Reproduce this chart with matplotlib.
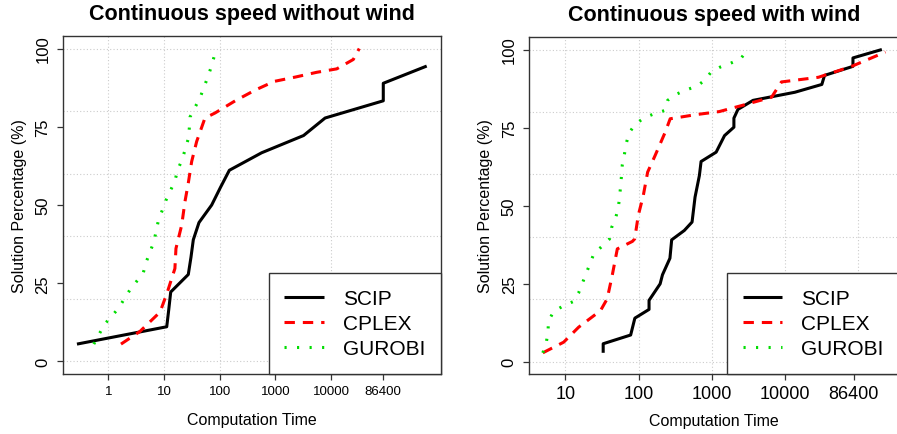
"""
Solution percentage vs computation time, two panels (no wind / wind).
"""

import matplotlib
matplotlib.use("Agg")
import matplotlib.pyplot as plt
import numpy as np

# ── Data: computation time (s) and cumulative solution percentage ─────────────
NOWIND_SCIP_T = [0.274, 11.2, 12.2, 13.2, 27.3, 30.5, 33.6, 42.5, 71.8, 103, 149,
                 567, 3200, 7800, 86400, 86400, 520000]
NOWIND_SCIP_P = [5.56, 11.1, 16.7, 22.2, 27.8, 33.3, 38.9, 44.4, 50.0, 55.6, 61.1,
                 66.7, 72.2, 77.8, 83.3, 88.9, 94.4]

NOWIND_CPLEX_T = [1.69, 3.7, 8.5, 11.5, 15.7, 16.4, 20.8, 23.8, 27.3, 31.4, 38.6,
                  54.4, 82.4, 190, 430, 950, 2300, 5500, 12600, 25000, 32000]
NOWIND_CPLEX_P = [5.56, 9.6, 15.8, 22.2, 29.7, 36.1, 43.6, 51.1, 57.0, 63.9, 70.3,
                  77.8, 79.4, 83.3, 86.7, 89.5, 90.9, 92.4, 93.5, 96.5, 100]

NOWIND_GUROBI_T = [0.55, 0.85, 1.51, 2.45, 4.25, 4.75, 6.6, 7.9, 10.9, 15.7, 17.6,
                   21, 24.1, 27.3, 28.5, 29.3, 36, 44.3, 52, 61, 70, 80]
NOWIND_GUROBI_P = [5.56, 11.8, 16.9, 22.9, 28.3, 31.6, 38.3, 44.9, 51.6, 57.7, 61.2,
                   64.4, 67.8, 71.2, 74.6, 78.1, 81.2, 84.2, 87.6, 90.8, 94.0, 97.6]

WIND_SCIP_T = [32.9, 32.9, 78, 89, 139, 139, 197, 212, 268, 283, 421, 537, 590, 676,
               713, 1145, 1490, 2000, 2000, 2270, 3650, 13600, 31700, 34500, 84300,
               84300, 209000]
WIND_SCIP_P = [2.8, 5.7, 8.5, 13.9, 16.7, 19.6, 24.9, 27.8, 33.1, 39.0, 42.0, 44.7,
               52.7, 59.6, 64.1, 67.1, 72.4, 75.1, 78.0, 80.8, 83.7, 86.3, 88.8, 91.7,
               94.6, 97.3, 100]

WIND_CPLEX_T = [4.94, 9.5, 15.2, 30.2, 37.3, 43.7, 51.3, 82.4, 88.6, 99, 116, 133,
                168, 231, 270, 596, 1260, 2520, 6530, 8900, 28500, 81000, 234000]
WIND_CPLEX_P = [2.8, 6.2, 11.0, 16.3, 20.1, 27.6, 36.1, 38.5, 39.3, 46.8, 53.2, 60.7,
                66.0, 73.5, 77.8, 79.1, 80.1, 82.0, 84.7, 89.6, 91.1, 94.6, 99.2]

WIND_GUROBI_T = [4.94, 5.5, 5.8, 5.9, 6.9, 9.5, 12.8, 15.2, 19.4, 24.5, 31.9, 40.2,
                 42.8, 48.6, 52.9, 55, 56.9, 58.5, 60, 64, 68, 74, 89, 117, 163, 224,
                 249, 330, 454, 630, 795, 980, 1310, 1800, 2470, 3020]
WIND_GUROBI_P = [2.8, 6.0, 9.4, 12.9, 16.0, 17.9, 19.2, 22.0, 28.4, 34.5, 37.0, 39.3,
                 42.9, 46.0, 49.2, 52.7, 56.2, 59.6, 63.1, 66.3, 69.9, 73.2, 75.9, 78.0,
                 79.4, 80.4, 83.7, 85.7, 87.1, 88.3, 90.1, 92.8, 94.4, 95.6, 97.0, 99.7]

SOLVERS = ["SCIP", "CPLEX", "GUROBI"]
TITLES = ["Continuous speed without wind", "Continuous speed with wind"]
XTICKS_L = [1, 10, 100, 1000, 10000, 86400]
XTICKS_R = [10, 100, 1000, 10000, 86400]
YTICKS = [0, 25, 50, 75, 100]
XGRID_L = [1, 10, 100, 10000]
XGRID_R = [10, 100, 1000, 10000, 100000]
YGRID = [0, 20, 40, 60, 80, 100]

# ── Style ─────────────────────────────────────────────────────────────────────
STYLE = {
    "SCIP":   dict(color="black", linestyle="-", linewidth=2.2),
    "CPLEX":  dict(color="#ff0000", linestyle=(0, (3.4, 2.6)), linewidth=2.2),
    "GUROBI": dict(color="#00dd00", linestyle=(0, (0.7, 3.4)), linewidth=2.2),
}
FRAME_C = "#333333"

plt.rcParams.update({
    "font.family": ["Liberation Sans", "DejaVu Sans"],
    "axes.linewidth": 1.0,
    "axes.edgecolor": FRAME_C,
})


def r_lim(lo, hi, log=False):
    # R style 4% padding on each side
    if log:
        lo, hi = np.log10(lo), np.log10(hi)
        pad = (hi - lo) * 0.04
        return 10 ** (lo - pad), 10 ** (hi + pad)
    pad = (hi - lo) * 0.04
    return lo - pad, hi + pad


def panel(ax, series, title, xticks, xgrid, xtick_fs, xlabelpad):
    all_t = [t for s in series for t in s[0]]
    ax.set_xscale("log")
    ax.set_xlim(*r_lim(min(all_t), max(all_t), log=True))
    ax.set_ylim(*r_lim(0, 100))

    for g in xgrid:
        ax.axvline(g, color="#cccccc", linestyle=(0, (1, 2)), linewidth=0.8, zorder=0)
    for g in YGRID:
        ax.axhline(g, color="#cccccc", linestyle=(0, (1, 2)), linewidth=0.8, zorder=0)

    for name, (t, p) in zip(SOLVERS, series):
        ax.plot(t, p, label=name, solid_capstyle="butt", dash_capstyle="butt", **STYLE[name])

    ax.set_xticks(xticks)
    ax.set_xticklabels([str(v) for v in xticks], fontsize=xtick_fs)
    ax.xaxis.set_minor_locator(matplotlib.ticker.NullLocator())
    ax.set_yticks(YTICKS)
    ax.set_yticklabels([str(v) for v in YTICKS], fontsize=12, rotation=90, va="center")
    ax.tick_params(axis="both", length=4, width=0.9, color=FRAME_C)
    ax.tick_params(axis="x", pad=4)
    ax.tick_params(axis="y", pad=5)

    ax.set_xlabel("Computation Time", fontsize=11.5, labelpad=xlabelpad)
    ax.set_ylabel("Solution Percentage (%)", fontsize=11.5, labelpad=6)
    ax.set_title(title, fontsize=15.5, fontweight="bold", pad=12)

    leg = ax.legend(loc="lower right", bbox_to_anchor=(1, 0), borderaxespad=0,
                    fontsize=15, handlelength=1.9, handletextpad=0.9,
                    labelspacing=0.3, borderpad=0.75, fancybox=False,
                    edgecolor=FRAME_C, framealpha=1)
    leg.get_frame().set_linewidth(1.0)


def main():
    fig = plt.figure(figsize=(8.97, 4.35), dpi=100)
    ax1 = fig.add_axes([0.0702, 0.1379, 0.4211, 0.7770])
    ax2 = fig.add_axes([0.5899, 0.1379, 0.4125, 0.7747])

    panel(ax1, [(NOWIND_SCIP_T, NOWIND_SCIP_P),
                (NOWIND_CPLEX_T, NOWIND_CPLEX_P),
                (NOWIND_GUROBI_T, NOWIND_GUROBI_P)],
          TITLES[0], XTICKS_L, XGRID_L, 9.5, 11)
    panel(ax2, [(WIND_SCIP_T, WIND_SCIP_P),
                (WIND_CPLEX_T, WIND_CPLEX_P),
                (WIND_GUROBI_T, WIND_GUROBI_P)],
          TITLES[1], XTICKS_R, XGRID_R, 13, 8)

    fig.savefig("out.png", dpi=100)
    plt.close(fig)


if __name__ == "__main__":
    main()
